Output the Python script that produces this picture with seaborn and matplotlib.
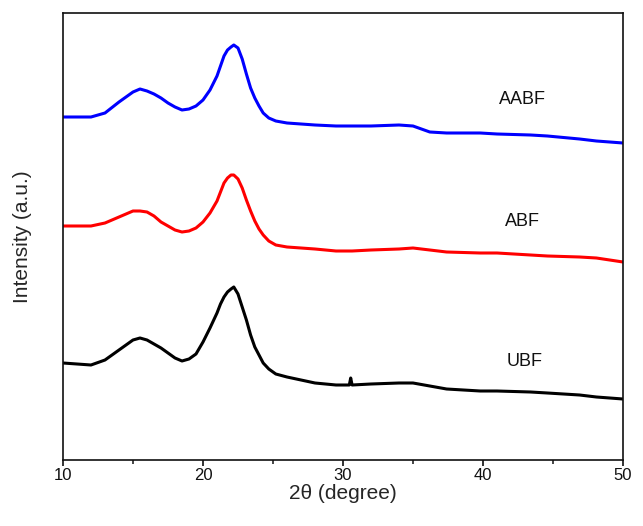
import numpy as np
import pandas as pd
import matplotlib
matplotlib.use("Agg")
import matplotlib.pyplot as plt
from matplotlib.ticker import MultipleLocator
import seaborn as sns

sns.set_theme(style="white")
plt.rcParams['font.family'] = ['Liberation Sans', 'DejaVu Sans']

two_theta = [10, 11, 12, 13, 14, 14.5, 15, 15.5, 16, 16.5, 17, 17.5, 18, 18.5, 19, 19.5,
             20, 20.5, 21, 21.25, 21.5, 21.75, 22, 22.2, 22.5, 22.8, 23.1, 23.4, 23.7,
             24, 24.3, 24.7, 25.2, 26, 27, 28, 29.5, 30.45, 30.55, 30.65, 32, 34, 35,
             36.2, 37.4, 39.8, 41, 43.4, 44.6, 46.9, 48.1, 50]

# intensities (a.u., stacked offsets as drawn)
aabf = [343, 343, 343, 347, 358, 363, 368, 371, 369, 366, 362, 357, 353, 350, 351, 354,
        360, 370, 384, 394, 404, 410, 413, 415, 412, 401, 386, 372, 362,
        354, 347, 342, 339, 337, 336, 335, 334, 334, 334, 334, 334, 335, 334,
        328, 327, 327, 326, 325, 324, 321, 319, 317]
abf = [234, 234, 234, 237, 243, 246, 249, 249, 248, 244, 238, 234, 230, 228, 229, 232,
       238, 247, 259, 268, 277, 282, 285, 285, 281, 272, 260, 249, 239,
       231, 225, 219, 215, 213, 212, 211, 209, 209, 209, 209, 210, 211, 212,
       210, 208, 207, 207, 205, 204, 203, 202, 198]
ubf = [97, 96, 95, 100, 110, 115, 120, 122, 120, 116, 112, 107, 102, 99, 101, 106,
       118, 132, 147, 156, 163, 168, 171, 173, 166, 153, 140, 125, 113,
       105, 97, 91, 86, 83, 80, 77, 75, 75, 82, 75, 76, 77, 77,
       74, 71, 69, 69, 68, 67, 65, 63, 61]

series_names = ["AABF", "ABF", "UBF"]
colors = {"AABF": "#0000FF", "ABF": "#FF0000", "UBF": "#000000"}
label_pos = {"AABF": (42.85, 360), "ABF": (42.8, 238), "UBF": (43.0, 98)}

df = pd.concat([
    pd.DataFrame({"2theta": two_theta, "I": v, "sample": n})
    for n, v in zip(series_names, [aabf, abf, ubf])
])

fig = plt.figure(figsize=(6.43, 5.26), dpi=100)
ax = fig.add_axes([63 / 643, 1 - 460 / 526, 560 / 643, 447 / 526])

sns.lineplot(data=df, x="2theta", y="I", hue="sample", palette=colors,
             linewidth=2.2, legend=False, ax=ax, sort=False)

for n in series_names:
    x, y = label_pos[n]
    ax.text(x, y, n, fontsize=13, ha="center", va="center", color="#111111")

ax.set_xlim(10, 50)
ax.set_ylim(0, 447)
ax.set_yticks([])
ax.xaxis.set_major_locator(MultipleLocator(10))
ax.xaxis.set_minor_locator(MultipleLocator(5))
ax.tick_params(axis="x", which="major", direction="out", length=4, width=1.2,
               labelsize=12, pad=1.5, bottom=True, colors="#111111")
ax.tick_params(axis="x", which="minor", direction="out", length=3, width=1.2, bottom=True)
for s in ax.spines.values():
    s.set_linewidth(1.2)
    s.set_color("#111111")
    s.set_visible(True)

ax.set_xlabel("2θ (degree)", fontsize=15)
ax.set_ylabel("Intensity (a.u.)", fontsize=15)
ax.xaxis.set_label_coords(0.5, -0.053)
ax.yaxis.set_label_coords(-0.056, 0.5)

fig.savefig("out.png", dpi=100)
